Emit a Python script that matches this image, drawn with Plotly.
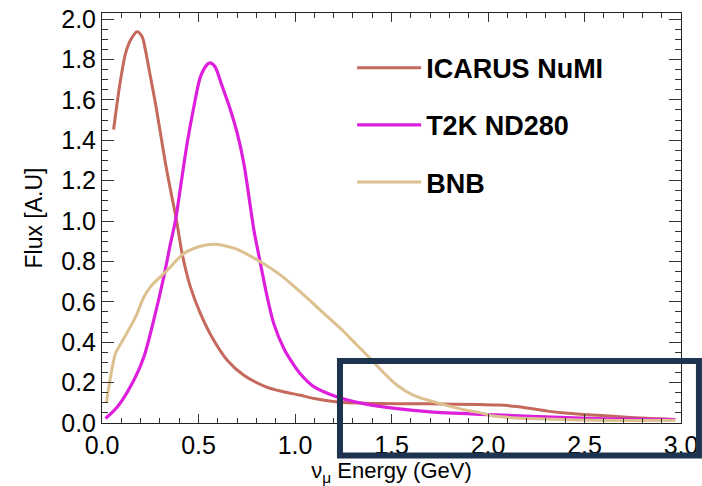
import plotly.graph_objects as go

# ---- data ----
icarus_x = [0.06, 0.078, 0.096, 0.122, 0.148, 0.182, 0.208, 0.225, 0.251, 0.277, 0.303, 0.329, 0.355,
            0.386, 0.415, 0.458, 0.51, 0.579, 0.649, 0.735, 0.853, 0.94, 1.03, 1.1, 1.22, 1.44, 1.70,
            1.96, 2.05, 2.15, 2.22, 2.30, 2.40, 2.52, 2.65, 2.82, 2.97]
icarus_y = [1.453, 1.582, 1.698, 1.830, 1.896, 1.937, 1.912, 1.846, 1.714, 1.582, 1.434, 1.285, 1.153,
            1.004, 0.839, 0.674, 0.542, 0.410, 0.311, 0.236, 0.178, 0.155, 0.137, 0.121, 0.104, 0.096,
            0.095, 0.091, 0.089, 0.082, 0.072, 0.060, 0.049, 0.041, 0.033, 0.023, 0.017]

t2k_x = [0.018, 0.079, 0.165, 0.217, 0.268, 0.320, 0.355, 0.381, 0.407, 0.441, 0.476, 0.510, 0.545,
         0.56, 0.585, 0.620, 0.666, 0.701, 0.735, 0.769, 0.787, 0.821, 0.856, 0.890, 0.942, 0.985,
         1.026, 1.097, 1.219, 1.356, 1.529, 1.702, 1.961, 2.13, 2.30, 2.56, 2.97]
t2k_y = [0.022, 0.079, 0.212, 0.327, 0.509, 0.723, 0.889, 1.004, 1.169, 1.384, 1.566, 1.714, 1.775,
         1.783, 1.765, 1.675, 1.549, 1.434, 1.285, 1.070, 0.955, 0.790, 0.624, 0.492, 0.369, 0.300,
         0.245, 0.180, 0.129, 0.096, 0.071, 0.055, 0.043, 0.037, 0.030, 0.022, 0.017]

bnb_x = [0.023, 0.044, 0.070, 0.113, 0.174, 0.217, 0.251, 0.338, 0.424, 0.510, 0.579, 0.683, 0.718,
         0.821, 0.925, 1.028, 1.132, 1.236, 1.322, 1.40, 1.443, 1.529, 1.615, 1.753, 1.874, 1.961,
         2.04, 2.22, 2.56, 2.97]
bnb_y = [0.099, 0.228, 0.344, 0.418, 0.525, 0.624, 0.674, 0.756, 0.839, 0.875, 0.885, 0.866, 0.852,
         0.798, 0.732, 0.649, 0.558, 0.468, 0.385, 0.310, 0.265, 0.187, 0.137, 0.096, 0.066, 0.050,
         0.033, 0.022, 0.013, 0.013]

series_names = ["ICARUS NuMI", "T2K ND280", "BNB"]
series_colors = ["#c4695c", "#dd1fdd", "#dcc090"]

x_ticks = [0.0, 0.5, 1.0, 1.5, 2.0, 2.5, 3.0]
y_ticks = [0.0, 0.2, 0.4, 0.6, 0.8, 1.0, 1.2, 1.4, 1.6, 1.8, 2.0]

FONT = "Liberation Sans, Arial, Helvetica, sans-serif"

fig = go.Figure()
for name, xs, ys, col, w in zip(series_names,
                                [icarus_x, t2k_x, bnb_x],
                                [icarus_y, t2k_y, bnb_y],
                                series_colors, [3, 3.2, 3]):
    fig.add_trace(go.Scatter(x=xs, y=ys, mode="lines", name=name, legendgroup=name,
                             line=dict(color=col, width=w, shape="spline", smoothing=0.8)))

axis_common = dict(
    showline=True, linecolor="#222", linewidth=1, mirror="ticks",
    ticks="inside", tickcolor="#333", tickwidth=1,
    showgrid=False, zeroline=False, automargin=False,
    tickfont=dict(family=FONT, size=25, color="black"),
)

fig.update_xaxes(range=[0, 3.0], tickvals=x_ticks, ticktext=[f"{v:.1f}" for v in x_ticks],
                 ticklen=9,
                 minor=dict(dtick=0.1, ticks="inside", ticklen=5, tickcolor="#333", showgrid=False),
                 title=dict(text="ν<sub>μ</sub> Energy (GeV)", font=dict(family=FONT, size=22, color="black"),
                            standoff=10),
                 **axis_common)
fig.update_yaxes(range=[0, 2.03], tickvals=y_ticks, ticktext=[f"{v:.1f}" for v in y_ticks],
                 ticklen=12,
                 minor=dict(dtick=0.05, ticks="inside", ticklen=6, tickcolor="#333", showgrid=False),
                 title=dict(text="Flux [A.U]", font=dict(family=FONT, size=23, color="black"),
                            standoff=12),
                 **axis_common)

# highlight box (pixel-positioned decoration, paper coordinates)
fig.add_shape(type="rect", xref="paper", yref="paper",
              x0=0.411, x1=1.031, y0=-0.079, y1=0.151,
              line=dict(color="#1d3350", width=6), fillcolor="rgba(0,0,0,0)", layer="above")

fig.update_layout(
    width=702, height=486,
    margin=dict(l=102, r=21, t=13, b=63, autoexpand=False),
    paper_bgcolor="white", plot_bgcolor="white",
    showlegend=True,
    legend=dict(x=0.432, y=0.925, xanchor="left", yanchor="top",
                bgcolor="rgba(0,0,0,0)", borderwidth=0,
                font=dict(family=FONT, size=27, color="black", weight="bold"),
                itemwidth=64, tracegroupgap=19, traceorder="grouped"),
)

fig.write_html("out.html")
